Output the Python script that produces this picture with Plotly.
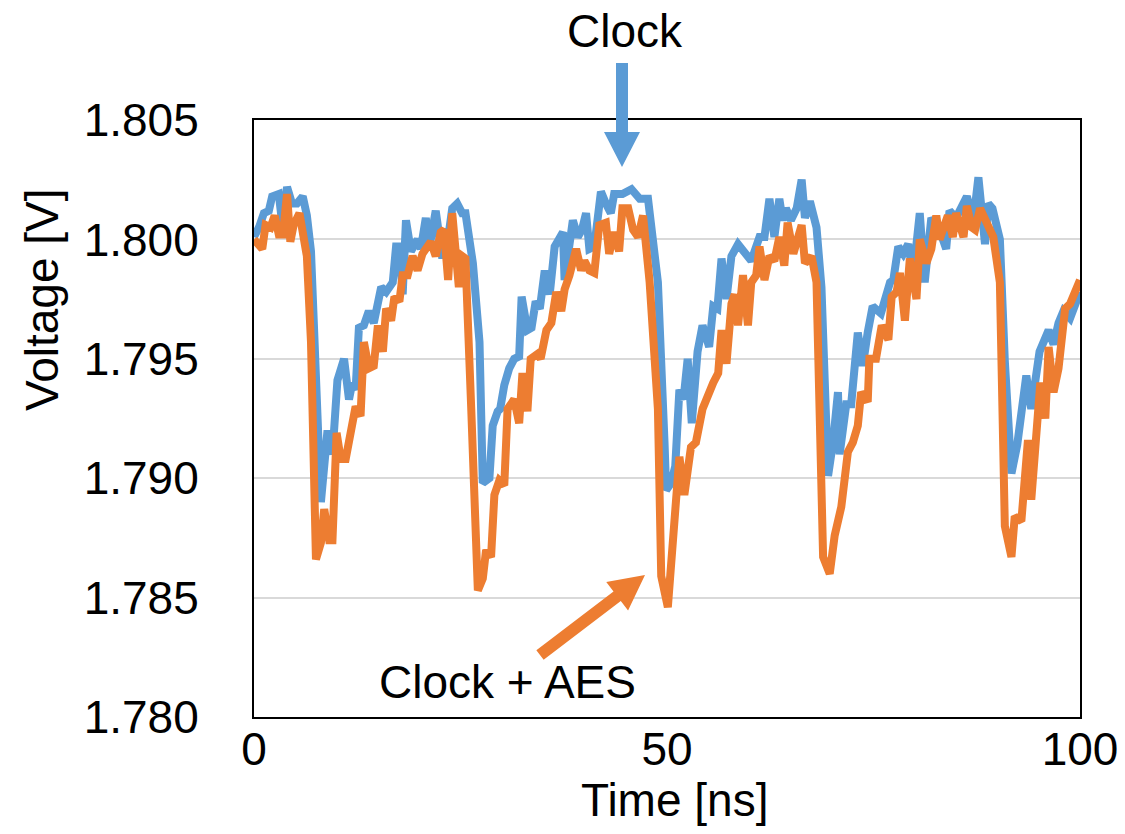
import math
import plotly.graph_objects as go

# ---- data ----
clock_t = [0, 0.6, 1.2, 1.8, 2.2, 3.0, 3.5, 4.0, 4.6, 5.2, 5.9, 6.4, 6.9, 7.5, 8.1, 8.9, 9.5, 10.1,
           10.9, 11.5, 11.9, 12.3, 12.7, 13.3, 13.9, 14.5, 15.4, 16.0, 16.8, 17.2, 17.6, 18.0, 18.4,
           19.0, 19.8, 20.2, 20.8, 21.2, 22.0, 22.8, 23.2, 23.6, 24.0, 24.6, 25.2, 25.6, 26.5, 27.3,
           27.7, 28.5, 28.9, 29.5, 29.8, 30.3, 30.9, 31.5, 32.1, 32.4, 33.1, 33.6, 34.1, 34.6, 35.2,
           35.8, 36.4, 36.9, 37.4, 37.6, 38.6, 39.2, 39.7, 40.2, 40.6, 41.2, 42.0, 42.6, 43.2, 43.6,
           44.6, 45.7, 46.7, 47.7, 48.9, 49.7, 49.9, 50.5, 51.0, 51.5, 52.0, 52.5, 53.0, 53.7, 54.3,
           55.1, 55.6, 56.1, 56.6, 57.2, 57.8, 58.6, 59.6, 60.2, 61.2, 61.8, 62.4, 63.0, 63.6, 64.0,
           64.4, 65.0, 65.7, 66.3, 66.7, 67.3, 68.1, 68.7, 69.5, 70.1, 70.7, 70.9, 71.7, 72.3, 73.1,
           73.7, 74.3, 74.9, 75.9, 77.0, 77.4, 78.0, 78.6, 79.2, 79.8, 80.6, 81.2, 82.0, 83.0, 83.8,
           84.2, 85.0, 86.3, 87.1, 87.7, 88.5, 88.9, 89.4, 90.3, 90.9, 91.7, 92.0, 92.4, 93.5, 94.1,
           95.1, 96.2, 96.8, 97.4, 98.0, 98.8, 100]
clock_v = [1.8001, 1.8005, 1.8011, 1.8012, 1.8018, 1.8019, 1.8004, 1.8022, 1.8015, 1.8015, 1.8018,
           1.8010, 1.7995, 1.7943, 1.7890, 1.7920, 1.7910, 1.7941, 1.7950, 1.7933, 1.7940, 1.7937,
           1.7963, 1.7964, 1.7970, 1.7965, 1.7980, 1.7978, 1.7982, 1.7997, 1.7997, 1.7977, 1.8008,
           1.7995, 1.8000, 1.7996, 1.8009, 1.7996, 1.8012, 1.7992, 1.8003, 1.8003, 1.8013, 1.8015,
           1.8011, 1.8011, 1.7990, 1.7957, 1.7898, 1.7900, 1.7922, 1.7928, 1.7929, 1.7939, 1.7946,
           1.7950, 1.7951, 1.7976, 1.7962, 1.7963, 1.7974, 1.7971, 1.7987, 1.7977, 1.7997, 1.8000,
           1.8003, 1.7983, 1.8008, 1.8001, 1.8004, 1.8011, 1.7996, 1.7997, 1.8020, 1.8015, 1.8011,
           1.8019, 1.8019, 1.8021, 1.8017, 1.8017, 1.7982, 1.7915, 1.7895, 1.7898, 1.7905, 1.7937,
           1.7933, 1.7950, 1.7923, 1.7953, 1.7964, 1.7955, 1.7972, 1.7971, 1.7992, 1.7975, 1.7993,
           1.7998, 1.7993, 1.7991, 1.8001, 1.8001, 1.8017, 1.8001, 1.8017, 1.8008, 1.8013, 1.8008,
           1.8013, 1.8025, 1.8009, 1.8016, 1.8005, 1.7980, 1.7901, 1.7915, 1.7936, 1.7910, 1.7931,
           1.7931, 1.7961, 1.7947, 1.7961, 1.7972, 1.7969, 1.7982, 1.7983, 1.7997, 1.7994, 1.7998,
           1.7985, 1.8011, 1.7982, 1.8009, 1.8004, 1.7996, 1.8012, 1.8009, 1.8018, 1.8008, 1.8026,
           1.7998, 1.8015, 1.8013, 1.8000, 1.7949, 1.7902, 1.7907, 1.7914, 1.7943, 1.7929, 1.7953,
           1.7962, 1.7956, 1.7965, 1.7970, 1.7967, 1.7978]

aes_t = [0, 0.5, 1.0, 1.4, 2.0, 2.5, 3.0, 3.5, 4.0, 4.4, 4.8, 5.5, 6.4, 6.9, 7.5, 8.1, 8.5, 9.1, 9.5,
         10.0, 10.5, 11.1, 12.3, 12.9, 13.3, 13.9, 14.5, 15.0, 15.6, 16.0, 16.6, 17.0, 17.6, 18.0, 18.6,
         19.2, 19.8, 20.4, 21.4, 22.0, 22.6, 23.0, 23.5, 24.0, 24.8, 25.2, 25.6, 26.3, 27.1, 27.7, 28.1,
         28.7, 29.1, 29.7, 30.3, 30.7, 31.5, 32.1, 32.5, 33.1, 33.5, 34.3, 34.7, 35.4, 36.0, 36.6, 37.2,
         37.6, 38.2, 39.0, 39.6, 40.0, 40.6, 41.2, 41.8, 42.6, 43.0, 43.6, 44.2, 44.6, 45.3, 45.9, 46.5,
         47.1, 47.9, 48.9, 49.3, 50.1, 50.7, 51.5, 52.1, 52.9, 53.5, 54.3, 55.6, 56.2, 56.6, 57.2, 57.8,
         58.2, 58.6, 59.2, 59.8, 60.2, 60.8, 61.2, 61.8, 62.4, 63.0, 63.6, 64.2, 64.6, 65.3, 66.3, 66.7,
         67.5, 68.1, 68.9, 69.7, 70.3, 71.1, 71.9, 72.5, 73.1, 73.5, 74.3, 74.5, 75.3, 76.0, 76.8, 77.2,
         77.8, 78.2, 78.8, 79.4, 80.2, 80.6, 81.4, 82.0, 82.6, 83.0, 84.0, 84.6, 85.0, 85.9, 86.3, 86.9,
         87.3, 87.9, 88.5, 89.5, 90.3, 90.9, 91.7, 92.1, 92.9, 93.7, 94.1, 95.2, 95.8, 96.2, 96.8, 97.4,
         98.2, 98.8, 100]
aes_v = [1.8000, 1.7998, 1.7996, 1.8006, 1.8005, 1.8010, 1.8002, 1.8002, 1.8019, 1.7999, 1.8006,
         1.8011, 1.7993, 1.7957, 1.7866, 1.7873, 1.7887, 1.7874, 1.7874, 1.7919, 1.7908, 1.7908,
         1.7930, 1.7926, 1.7957, 1.7946, 1.7947, 1.7964, 1.7953, 1.7971, 1.7966, 1.7976, 1.7974,
         1.7985, 1.7985, 1.7993, 1.7987, 1.7994, 1.7999, 1.7993, 1.8003, 1.8004, 1.7983, 1.8011,
         1.7980, 1.7993, 1.7992, 1.7929, 1.7853, 1.7858, 1.7870, 1.7867, 1.7893, 1.7899, 1.7897,
         1.7929, 1.7933, 1.7923, 1.7944, 1.7928, 1.7950, 1.7952, 1.7950, 1.7962, 1.7965, 1.7978,
         1.7970, 1.7979, 1.7985, 1.7996, 1.7987, 1.7991, 1.7987, 1.7986, 1.8006, 1.8007, 1.7994,
         1.8003, 1.7995, 1.8013, 1.8013, 1.8004, 1.8001, 1.8010, 1.7982, 1.7929, 1.7859, 1.7846,
         1.7870, 1.7909, 1.7893, 1.7913, 1.7915, 1.7929, 1.7940, 1.7944, 1.7962, 1.7948, 1.7973,
         1.7977, 1.7964, 1.7985, 1.7964, 1.7982, 1.7985, 1.7997, 1.7983, 1.7993, 1.7991, 1.8001,
         1.7989, 1.8007, 1.7994, 1.8006, 1.7990, 1.7993, 1.7982, 1.7867, 1.7860, 1.7876, 1.7888,
         1.7911, 1.7915, 1.7922, 1.7936, 1.7932, 1.7950, 1.7950, 1.7964, 1.7958, 1.7976, 1.7978,
         1.7986, 1.7966, 1.7992, 1.7975, 1.8000, 1.7990, 1.7996, 1.8010, 1.8000, 1.8010, 1.8001,
         1.8011, 1.8001, 1.8014, 1.8005, 1.8004, 1.8013, 1.8008, 1.8001, 1.7982, 1.7880, 1.7867,
         1.7884, 1.7882, 1.7916, 1.7891, 1.7940, 1.7925, 1.7955, 1.7936, 1.7946, 1.7971, 1.7973,
         1.7983]

y_ticks = [1.780, 1.785, 1.790, 1.795, 1.800, 1.805]
y_ticktext = ["1.780", "1.785", "1.790", "1.795", "1.800", "1.805"]
x_ticks = [0, 50, 100]

BLUE = "#5B9BD5"
ORANGE = "#ED7D31"
FONT = "Liberation Sans, Arial, sans-serif"
FS = 46

W, H = 1125, 834
L, R, T, B = 254, 45, 120, 117
PW, PH = W - L - R, H - T - B


def px2paper(px, py):
    return (px - L) / PW, 1 - (py - T) / PH


def arrow_path(x0, y0, x1, y1, shaft=12, head_w=36, head_l=35):
    dx, dy = x1 - x0, y1 - y0
    n = math.hypot(dx, dy)
    ux, uy = dx / n, dy / n
    nx, ny = -uy, ux
    bx, by = x1 - ux * head_l, y1 - uy * head_l
    pts = [
        (x0 + nx * shaft / 2, y0 + ny * shaft / 2),
        (bx + nx * shaft / 2, by + ny * shaft / 2),
        (bx + nx * head_w / 2, by + ny * head_w / 2),
        (x1, y1),
        (bx - nx * head_w / 2, by - ny * head_w / 2),
        (bx - nx * shaft / 2, by - ny * shaft / 2),
        (x0 - nx * shaft / 2, y0 - ny * shaft / 2),
    ]
    pp = [px2paper(a, b) for a, b in pts]
    return "M " + " L ".join(f"{a:.5f},{b:.5f}" for a, b in pp) + " Z"


fig = go.Figure()
fig.add_trace(go.Scatter(x=clock_t, y=clock_v, mode="lines", name="Clock",
                         line=dict(color=BLUE, width=8), showlegend=False))
fig.add_trace(go.Scatter(x=aes_t, y=aes_v, mode="lines", name="Clock + AES",
                         line=dict(color=ORANGE, width=8), showlegend=False))

fig.update_layout(
    width=W, height=H,
    margin=dict(l=L, r=R, t=T, b=B),
    paper_bgcolor="white", plot_bgcolor="white",
    font=dict(family=FONT, size=FS, color="black"),
    xaxis=dict(range=[0, 100], tickvals=x_ticks, showgrid=False, zeroline=False,
               showline=True, mirror=True, linecolor="black", linewidth=2,
               ticks="", ticklabelstandoff=-9, automargin=False, tickfont=dict(size=FS)),
    yaxis=dict(range=[1.780, 1.805], tickvals=y_ticks, ticktext=y_ticktext,
               showgrid=True, gridcolor="#D9D9D9", gridwidth=1.5, zeroline=False,
               showline=True, mirror=True, linecolor="black", linewidth=2,
               ticks="", ticklabelstandoff=44, automargin=False, tickfont=dict(size=FS)),
)

ax, ay = px2paper(674, 800)
bx, by = px2paper(42, 300)
cx, cy = px2paper(625, 31)
dx_, dy_ = px2paper(507, 682)
fig.add_annotation(x=ax, y=ay, xref="paper", yref="paper", text="Time [ns]", showarrow=False,
                   xanchor="center", yanchor="middle", font=dict(size=FS))
fig.add_annotation(x=bx, y=by, xref="paper", yref="paper", text="Voltage [V]", showarrow=False,
                   textangle=-90, xanchor="center", yanchor="middle", font=dict(size=FS))
fig.add_annotation(x=cx, y=cy, xref="paper", yref="paper", text="Clock", showarrow=False,
                   xanchor="center", yanchor="middle", font=dict(size=FS))
fig.add_annotation(x=dx_, y=dy_, xref="paper", yref="paper", text="Clock + AES", showarrow=False,
                   xanchor="center", yanchor="middle", font=dict(size=FS))

fig.add_shape(type="path", xref="paper", yref="paper", path=arrow_path(622, 63, 622, 167),
              fillcolor=BLUE, line=dict(width=0), layer="above")
fig.add_shape(type="path", xref="paper", yref="paper", path=arrow_path(540, 655, 645, 575),
              fillcolor=ORANGE, line=dict(width=0), layer="above")

fig.write_html("out.html")
